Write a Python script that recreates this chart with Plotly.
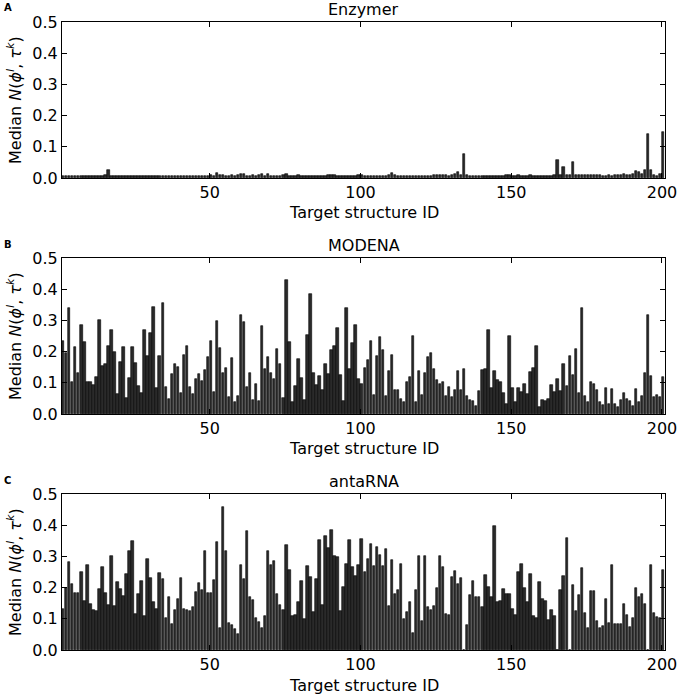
import plotly.graph_objects as go

ids = list(range(1, 201))

enzymer = [
    0.007,0.006,0.007,0.006,0.007,0.007,0.006,0.007,0.006,0.007,
    0.006,0.007,0.008,0.007,0.009,0.025,0.007,0.006,0.007,0.006,
    0.007,0.006,0.007,0.007,0.006,0.007,0.006,0.007,0.006,0.007,
    0.007,0.006,0.007,0.006,0.007,0.006,0.007,0.006,0.007,0.007,
    0.006,0.007,0.006,0.007,0.008,0.007,0.006,0.008,0.007,0.010,
    0.008,0.016,0.010,0.009,0.008,0.007,0.009,0.008,0.010,0.012,
    0.014,0.008,0.007,0.009,0.008,0.010,0.012,0.008,0.014,0.008,
    0.007,0.008,0.007,0.009,0.012,0.008,0.007,0.008,0.011,0.008,
    0.007,0.008,0.007,0.007,0.008,0.007,0.008,0.007,0.009,0.010,
    0.011,0.008,0.007,0.008,0.007,0.008,0.008,0.007,0.009,0.011,
    0.008,0.007,0.008,0.007,0.008,0.007,0.008,0.007,0.009,0.016,
    0.009,0.008,0.008,0.007,0.008,0.008,0.007,0.008,0.007,0.008,
    0.008,0.007,0.008,0.009,0.010,0.010,0.011,0.010,0.008,0.009,
    0.012,0.020,0.009,0.076,0.010,0.008,0.008,0.007,0.008,0.008,
    0.007,0.008,0.008,0.007,0.008,0.008,0.007,0.009,0.011,0.008,
    0.008,0.009,0.008,0.007,0.008,0.009,0.008,0.007,0.008,0.008,
    0.008,0.007,0.008,0.009,0.058,0.009,0.036,0.010,0.010,0.052,
    0.010,0.010,0.009,0.010,0.010,0.009,0.011,0.010,0.009,0.008,
    0.008,0.009,0.008,0.010,0.009,0.010,0.012,0.010,0.010,0.013,
    0.022,0.018,0.014,0.026,0.140,0.025,0.010,0.008,0.012,0.146,
]

modena = [
    0.234,0.196,0.339,0.104,0.215,0.133,0.285,0.232,0.101,0.104,
    0.094,0.118,0.301,0.153,0.159,0.218,0.268,0.199,0.063,0.167,
    0.214,0.052,0.117,0.215,0.165,0.091,0.066,0.269,0.186,0.259,
    0.343,0.082,0.185,0.357,0.088,0.049,0.127,0.161,0.151,0.066,
    0.188,0.217,0.085,0.065,0.112,0.127,0.106,0.140,0.183,0.233,
    0.069,0.297,0.211,0.131,0.146,0.054,0.181,0.037,0.058,0.317,
    0.294,0.086,0.130,0.045,0.095,0.043,0.282,0.145,0.183,0.130,
    0.113,0.208,0.160,0.052,0.430,0.230,0.037,0.091,0.176,0.114,
    0.046,0.253,0.385,0.130,0.092,0.122,0.076,0.160,0.127,0.204,
    0.217,0.276,0.124,0.042,0.340,0.145,0.227,0.284,0.111,0.095,
    0.149,0.173,0.235,0.062,0.187,0.246,0.205,0.057,0.138,0.188,
    0.077,0.078,0.047,0.039,0.103,0.118,0.251,0.040,0.138,0.060,
    0.131,0.183,0.196,0.143,0.109,0.095,0.103,0.058,0.087,0.053,
    0.076,0.138,0.076,0.143,0.057,0.046,0.042,0.027,0.074,0.142,
    0.143,0.269,0.082,0.137,0.109,0.103,0.068,0.031,0.249,0.082,
    0.038,0.083,0.069,0.095,0.063,0.135,0.147,0.218,0.023,0.045,
    0.043,0.048,0.094,0.069,0.111,0.073,0.160,0.089,0.186,0.125,
    0.209,0.067,0.339,0.059,0.038,0.104,0.096,0.076,0.037,0.029,
    0.084,0.031,0.080,0.033,0.023,0.044,0.066,0.047,0.043,0.026,
    0.080,0.037,0.058,0.132,0.316,0.122,0.055,0.060,0.056,0.119,
]

antarna = [
    0.130,0.199,0.282,0.211,0.182,0.183,0.249,0.157,0.272,0.149,
    0.128,0.124,0.197,0.265,0.182,0.144,0.301,0.142,0.219,0.197,
    0.173,0.243,0.317,0.350,0.115,0.178,0.220,0.109,0.291,0.231,
    0.154,0.132,0.246,0.229,0.102,0.171,0.083,0.129,0.162,0.231,
    0.132,0.128,0.124,0.138,0.185,0.215,0.191,0.316,0.183,0.182,
    0.225,0.345,0.069,0.459,0.316,0.087,0.080,0.066,0.050,0.274,
    0.228,0.382,0.169,0.160,0.103,0.090,0.071,0.108,0.317,0.274,
    0.284,0.181,0.143,0.128,0.338,0.258,0.110,0.112,0.153,0.220,
    0.099,0.268,0.235,0.122,0.226,0.351,0.144,0.367,0.326,0.384,
    0.302,0.297,0.125,0.201,0.275,0.354,0.267,0.238,0.274,0.357,
    0.249,0.291,0.341,0.270,0.330,0.304,0.269,0.323,0.140,0.290,
    0.180,0.192,0.277,0.099,0.123,0.154,0.053,0.192,0.301,0.093,
    0.301,0.138,0.127,0.142,0.199,0.301,0.266,0.115,0.111,0.233,
    0.253,0.213,0.230,0.000,0.080,0.176,0.222,0.171,0.171,0.139,
    0.239,0.202,0.171,0.397,0.153,0.158,0.197,0.178,0.178,0.132,
    0.111,0.251,0.275,0.200,0.155,0.245,0.110,0.104,0.219,0.163,
    0.157,0.095,0.129,0.108,0.000,0.192,0.237,0.358,0.000,0.208,
    0.125,0.176,0.263,0.120,0.069,0.188,0.188,0.093,0.069,0.077,
    0.165,0.088,0.272,0.083,0.083,0.083,0.147,0.112,0.075,0.101,
    0.200,0.171,0.179,0.147,0.000,0.274,0.120,0.106,0.101,0.258,
]

titles = ["Enzymer", "MODENA", "antaRNA"]
letters = ["A", "B", "C"]
series = [enzymer, modena, antarna]
x_ticks = [50, 100, 150, 200]
y_ticks = [0.0, 0.1, 0.2, 0.3, 0.4, 0.5]

W, H = 680, 696
L, R = 62, 665
panels_px = [(22, 178), (258, 414), (494, 650)]
FONT = "DejaVu Sans"
FS = 16

def py(p):
    return 1 - p / H

def px(p):
    return (p - L) / (R - L)

fig = go.Figure()
annotations = []
for i, (vals, title, letter, (top, bot)) in enumerate(zip(series, titles, letters, panels_px)):
    n = "" if i == 0 else str(i + 1)
    fig.add_trace(go.Bar(
        x=ids, y=vals, offset=0, width=0.8,
        marker=dict(color="#2a2a2a", line=dict(color="black", width=0.6)),
        xaxis="x" + n, yaxis="y" + n, showlegend=False,
    ))
    fig.update_layout(**{
        "xaxis" + n: dict(
            domain=[0, 1], anchor="y" + n, range=[1, 201],
            tickvals=x_ticks, ticktext=[str(t) for t in x_ticks],
            ticks="inside", ticklen=5, tickcolor="black", tickwidth=1,
            showline=True, linecolor="black", linewidth=1, mirror="ticks",
            showgrid=False, zeroline=False,
            tickfont=dict(family=FONT, size=FS, color="black"),
        ),
        "yaxis" + n: dict(
            domain=[py(bot), py(top)], anchor="x" + n, range=[0, 0.5],
            tickvals=y_ticks, ticktext=["%.1f" % t for t in y_ticks],
            ticks="inside", ticklen=5, tickcolor="black", tickwidth=1,
            showline=True, linecolor="black", linewidth=1, mirror="ticks",
            showgrid=False, zeroline=False,
            tickfont=dict(family=FONT, size=FS, color="black"),
        ),
    })
    annotations.append(dict(text=title, x=0.5, y=py(top - 13), xref="paper", yref="paper",
                            xanchor="center", yanchor="middle", showarrow=False,
                            font=dict(family=FONT, size=FS, color="black")))
    annotations.append(dict(text="Target structure ID", x=0.5, y=py(bot + 35), xref="paper", yref="paper",
                            xanchor="center", yanchor="middle", showarrow=False,
                            font=dict(family=FONT, size=FS, color="black")))
    annotations.append(dict(text="Median <i>N</i>(<i>ϕ</i><sup><i>l</i></sup>, <i>τ</i><sup><i>k</i></sup>)",
                            x=px(14), y=py((top + bot) / 2), xref="paper", yref="paper",
                            xanchor="center", yanchor="middle", textangle=-90, showarrow=False,
                            font=dict(family=FONT, size=FS, color="black")))
    annotations.append(dict(text="<b>%s</b>" % letter, x=px(2), y=py(top - 14), xref="paper", yref="paper",
                            xanchor="left", yanchor="middle", showarrow=False,
                            font=dict(family=FONT, size=10, color="black")))

fig.update_layout(
    width=W, height=H,
    margin=dict(l=L, r=W - R, t=0, b=0, autoexpand=False),
    paper_bgcolor="white", plot_bgcolor="white",
    bargap=0, annotations=annotations,
    font=dict(family=FONT, color="black"),
)

fig.write_html("out.html", config={"displayModeBar": False},
               post_script="document.body.style.margin='0';")
